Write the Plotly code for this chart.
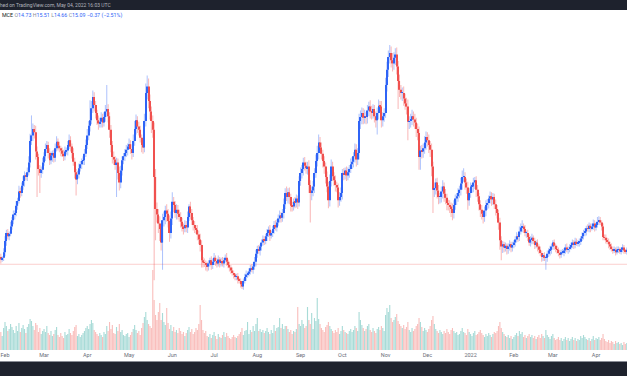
import plotly.graph_objects as go
import pandas as pd

# ---------------- data (price units arbitrary) ----------------
start_date = "2021-01-28"
first_open = 15.8

closes = [
    16.0, 15.7, 15.9, 16.6, 18.0, 19.0, 18.6, 18.9, 19.8, 20.6,
    21.3, 21.5, 22.4, 23.0, 24.2, 24.0, 24.9, 25.5, 26.2, 26.0,
    26.6, 27.8, 30.5, 31.2, 32.0, 31.6, 29.2, 28.5, 27.0, 26.5,
    26.9, 27.8, 28.6, 29.5, 30.0, 29.0, 28.1, 28.7, 29.0, 28.4,
    29.6, 30.4, 29.9, 29.6, 29.3, 28.9, 28.6, 29.2, 29.3, 30.0,
    30.6, 29.8, 29.0, 27.9, 26.6, 25.7, 26.3, 27.1, 27.6, 28.0,
    28.1, 28.9, 30.0, 31.2, 32.4, 33.1, 34.6, 36.0, 35.0, 34.0,
    33.1, 32.7, 32.9, 33.4, 32.8, 33.5, 34.2, 34.5, 33.6, 31.9,
    30.0, 28.5, 28.2, 27.5, 27.8, 26.5, 25.3, 26.8, 28.1, 28.6,
    29.0, 29.4, 29.8, 30.1, 29.5, 29.0, 30.5, 32.0, 33.1, 32.3,
    31.9, 30.9, 30.0, 29.7, 33.0, 36.5, 37.3, 35.5, 34.2, 33.0,
    31.9, 26.0, 22.0, 21.3, 20.2, 19.5, 17.8, 20.6, 21.0, 21.8,
    21.4, 20.5, 19.0, 20.8, 22.9, 22.5, 21.5, 21.9, 21.4, 21.0,
    20.4, 19.8, 19.6, 20.0, 19.7, 21.0, 22.3, 21.5, 20.6, 20.0,
    19.6, 19.4, 18.8, 18.2, 17.5, 15.6, 15.3, 15.25, 15.0, 14.8,
    15.2, 15.6, 15.0, 15.4, 15.9, 15.5, 15.2, 15.7, 15.3, 15.5,
    15.2, 15.6, 15.9, 15.4, 15.0, 14.7, 14.3, 14.0, 13.8, 13.5,
    13.6, 13.2, 13.0, 12.6, 12.3, 13.0, 13.5, 13.8, 13.9, 14.2,
    14.6, 14.4, 14.8, 15.4, 16.4, 17.0, 16.8, 17.3, 17.8, 18.2,
    18.0, 18.6, 19.0, 19.4, 18.7, 19.0, 19.5, 20.0, 19.7, 20.3,
    20.8, 21.2, 20.9, 21.5, 22.6, 24.0, 23.5, 24.1, 23.5, 22.4,
    22.3, 22.9, 22.8, 23.3, 22.8, 25.5, 26.5, 27.0, 27.8, 27.4,
    27.1, 27.3, 25.0, 24.0, 24.3, 24.8, 26.5, 28.0, 29.0, 30.3,
    29.7, 28.9, 28.0, 27.3, 26.0, 24.8, 23.1, 25.5, 27.3, 26.1,
    25.6, 25.0, 24.7, 23.1, 23.5, 24.0, 26.5, 26.3, 26.8, 26.2,
    26.6, 27.0, 27.6, 27.9, 28.6, 29.4, 28.2, 29.0, 33.0, 33.5,
    34.0, 33.4, 33.6, 33.5, 34.3, 34.8, 34.2, 34.0, 34.5, 33.6,
    33.1, 34.0, 34.9, 34.8, 33.1, 33.6, 34.0, 37.5, 39.4, 41.0,
    41.5, 40.6, 40.2, 40.9, 41.3, 39.8, 38.0, 36.9, 36.5, 36.5,
    35.8, 35.2, 34.8, 32.9, 33.0, 33.2, 33.6, 33.2, 32.8, 32.0,
    31.5, 28.5, 29.3, 29.2, 29.6, 30.3, 31.0, 30.6, 30.0, 29.4,
    27.3, 24.4, 24.6, 25.3, 24.3, 23.5, 23.5, 24.2, 24.8, 23.9,
    23.4, 22.75, 22.5, 22.3, 22.0, 21.5, 22.5, 23.3, 23.6, 24.0,
    24.4, 25.2, 26.0, 26.0, 25.3, 24.7, 23.1, 24.0, 24.8, 24.8,
    25.3, 25.6, 24.4, 23.6, 22.6, 21.9, 21.4, 21.0, 21.8, 22.5,
    22.75, 23.3, 23.6, 23.2, 23.5, 22.6, 22.0, 21.5, 20.3, 18.1,
    17.3, 17.6, 17.2, 17.4, 17.0, 17.3, 17.6, 17.2, 17.5, 17.8,
    18.2, 18.6, 18.5, 19.2, 19.7, 19.8, 19.5, 19.0, 19.0, 18.5,
    17.8, 18.2, 18.4, 18.0, 17.5, 17.8, 17.3, 16.9, 16.5, 16.0,
    16.2, 15.9, 15.9, 16.4, 16.8, 16.9, 17.3, 17.8, 17.4, 17.0,
    16.9, 16.5, 16.3, 16.6, 16.6, 16.8, 17.2, 16.9, 17.0, 17.2,
    17.5, 17.8, 17.5, 17.9, 17.7, 17.8, 17.9, 18.3, 18.6, 19.0,
    19.2, 19.6, 19.5, 19.9, 19.6, 19.8, 20.2, 19.7, 20.0, 20.4,
    20.6, 20.3, 19.8, 18.5, 18.4, 18.1, 17.9, 17.6, 17.3, 17.0,
    16.8, 16.9, 16.6, 16.9, 17.0, 16.7, 16.9, 17.2, 16.8, 16.7,
    16.9,
]

# wick lengths above/below the body, in tenths of a price unit
upper_wick = [
    3, 4, 2, 5, 6, 4, 5, 3, 6, 4,
    5, 3, 6, 4, 7, 5, 4, 6, 5, 3,
    6, 8, 9, 25, 7, 5, 8, 6, 4, 5,
    4, 6, 5, 7, 5, 4, 6, 5, 3, 4,
    6, 7, 4, 5, 3, 4, 5, 6, 4, 5,
    7, 5, 4, 6, 5, 4, 5, 6, 4, 3,
    5, 6, 7, 8, 6, 25, 9, 8, 6, 5,
    4, 6, 5, 7, 5, 6, 8, 30, 6, 5,
    6, 5, 7, 4, 6, 5, 8, 6, 5, 4,
    5, 6, 4, 7, 5, 6, 8, 10, 7, 5,
    6, 5, 4, 6, 9, 12, 14, 10, 8, 6,
    7, 9, 10, 8, 7, 9, 6, 8, 7, 6,
    8, 6, 7, 9, 12, 6, 5, 7, 6, 5,
    6, 5, 4, 6, 5, 7, 3, 6, 5, 4,
    5, 4, 6, 5, 7, 6, 4, 5, 3, 4,
    4, 3, 5, 4, 6, 3, 4, 5, 3, 4,
    5, 3, 4, 6, 3, 4, 3, 4, 3, 2,
    3, 4, 2, 3, 4, 3, 4, 5, 3, 4,
    4, 5, 3, 6, 5, 4, 5, 3, 4, 5,
    4, 3, 5, 4, 6, 3, 4, 5, 6, 4,
    5, 6, 4, 5, 7, 6, 8, 5, 6, 4,
    5, 4, 6, 5, 4, 6, 7, 5, 6, 7,
    5, 6, 8, 6, 5, 7, 6, 8, 9, 10,
    7, 6, 5, 6, 5, 7, 6, 8, 9, 6,
    5, 6, 4, 5, 6, 7, 5, 6, 4, 5,
    6, 5, 7, 6, 5, 8, 7, 6, 9, 8,
    7, 6, 8, 5, 7, 6, 8, 7, 6, 5,
    6, 7, 8, 6, 7, 5, 6, 9, 10, 8,
    10, 8, 9, 7, 8, 9, 7, 8, 6, 7,
    8, 6, 7, 9, 6, 7, 8, 6, 7, 6,
    7, 8, 6, 7, 6, 8, 7, 6, 7, 5,
    8, 6, 7, 5, 6, 7, 5, 6, 8, 5,
    6, 5, 4, 6, 5, 7, 6, 5, 4, 6,
    5, 7, 8, 11, 6, 5, 7, 6, 5, 4,
    6, 4, 5, 6, 4, 5, 6, 4, 5, 6,
    5, 4, 6, 5, 5, 4, 6, 5, 4, 6,
    5, 4, 3, 4, 3, 4, 5, 3, 4, 3,
    4, 5, 3, 6, 5, 8, 4, 5, 3, 4,
    3, 4, 5, 3, 4, 3, 4, 3, 4, 3,
    3, 4, 3, 4, 3, 5, 4, 3, 4, 3,
    4, 3, 4, 3, 4, 3, 4, 5, 3, 4,
    3, 4, 3, 5, 4, 3, 4, 3, 5, 4,
    4, 3, 5, 4, 3, 4, 5, 4, 3, 6,
    5, 4, 3, 4, 3, 4, 3, 4, 3, 4,
    3, 4, 3, 4, 3, 2, 3, 4, 3, 2,
    3,
]

lower_wick = [
    4, 5, 3, 4, 5, 6, 4, 5, 3, 4,
    5, 6, 4, 5, 3, 6, 4, 5, 7, 4,
    5, 4, 6, 5, 7, 8, 10, 50, 8, 25,
    6, 5, 4, 6, 5, 7, 6, 5, 8, 6,
    5, 4, 6, 5, 7, 4, 6, 5, 4, 6,
    5, 6, 7, 5, 8, 20, 6, 5, 4, 6,
    5, 6, 4, 5, 6, 7, 5, 6, 8, 7,
    6, 8, 5, 7, 6, 5, 6, 7, 8, 10,
    9, 8, 7, 6, 40, 8, 10, 7, 6, 5,
    6, 5, 7, 4, 6, 8, 5, 6, 7, 8,
    7, 6, 9, 8, 6, 7, 8, 9, 10, 15,
    10, 129, 39, 10, 12, 15, 10, 34, 8, 9,
    10, 8, 11, 7, 8, 9, 6, 8, 7, 6,
    7, 6, 8, 5, 6, 7, 5, 8, 6, 7,
    6, 5, 7, 6, 8, 9, 6, 5, 7, 6,
    5, 4, 6, 5, 4, 6, 5, 4, 6, 5,
    4, 5, 3, 5, 4, 5, 4, 3, 5, 4,
    4, 5, 3, 4, 3, 4, 3, 5, 4, 3,
    4, 3, 5, 4, 6, 5, 4, 6, 5, 4,
    5, 4, 6, 5, 7, 4, 5, 6, 4, 5,
    4, 5, 6, 5, 7, 6, 5, 8, 9, 7,
    6, 5, 7, 6, 8, 5, 6, 7, 8, 6,
    7, 8, 10, 37, 9, 7, 8, 6, 7, 8,
    6, 7, 8, 9, 8, 7, 10, 8, 7, 6,
    7, 8, 6, 9, 7, 6, 8, 7, 6, 7,
    6, 7, 5, 6, 7, 8, 9, 7, 8, 10,
    9, 8, 7, 9, 8, 7, 9, 8, 7, 8,
    9, 18, 8, 7, 9, 8, 7, 6, 8, 9,
    8, 9, 10, 8, 9, 10, 35, 9, 8, 10,
    9, 8, 10, 23, 9, 8, 7, 9, 8, 10,
    9, 16, 16, 9, 8, 7, 9, 8, 10, 9,
    12, 29, 9, 8, 10, 9, 8, 7, 9, 10,
    8, 9, 7, 8, 10, 9, 7, 6, 8, 7,
    6, 7, 8, 6, 9, 8, 12, 7, 6, 8,
    7, 8, 9, 7, 8, 9, 7, 8, 6, 7,
    6, 7, 6, 8, 7, 6, 8, 7, 9, 12,
    17, 8, 6, 5, 7, 6, 5, 6, 5, 4,
    5, 4, 6, 5, 4, 6, 5, 4, 6, 5,
    4, 5, 6, 4, 5, 4, 6, 5, 4, 6,
    5, 4, 15, 5, 4, 6, 5, 4, 5, 4,
    5, 4, 5, 4, 3, 5, 4, 3, 5, 4,
    3, 4, 5, 4, 3, 4, 5, 4, 3, 4,
    4, 5, 3, 4, 5, 3, 4, 5, 4, 3,
    4, 3, 5, 4, 3, 4, 3, 5, 4, 3,
    4, 3, 4, 3, 4, 3, 4, 3, 4, 3,
    4,
]

volume = [
    12, 18, 14, 22, 28, 24, 19, 21, 26, 23,
    20, 17, 24, 19, 27, 18, 22, 25, 21, 17,
    23, 26, 31, 29, 24, 20, 27, 25, 18, 22,
    16, 19, 21, 18, 24, 17, 15, 19, 14, 16,
    20, 23, 15, 13, 17, 14, 12, 18, 15, 16,
    21, 17, 15, 19, 23, 25, 14, 16, 13, 15,
    17, 19, 22, 24, 21, 26, 30, 27, 20, 18,
    16, 14, 17, 15, 13, 18, 16, 24, 19, 28,
    21, 25, 17, 16, 23, 19, 26, 18, 20, 15,
    14, 16, 17, 13, 15, 18, 21, 25, 20, 17,
    19, 15, 22, 27, 33, 38, 30, 26, 24, 22,
    80, 50, 35, 30, 38, 47, 30, 37, 28, 25,
    42, 27, 21, 25, 19, 23, 18, 20, 17, 22,
    19, 16, 18, 14, 17, 20, 23, 18, 21, 16,
    18, 22, 20, 26, 45, 30, 20, 17, 19, 14,
    13, 16, 12, 15, 18, 14, 11, 16, 13, 12,
    15, 18, 13, 17, 14, 12, 11, 13, 15, 13,
    12, 14, 16, 18, 22, 15, 19, 20, 28, 16,
    20, 18, 24, 19, 26, 32, 19, 21, 18, 20,
    17, 19, 22, 18, 16, 20, 17, 25, 19, 22,
    23, 32, 22, 26, 21, 24, 24, 21, 18, 20,
    16, 19, 18, 21, 43, 26, 24, 30, 26, 22,
    24, 43, 30, 26, 37, 21, 32, 29, 52, 31,
    26, 22, 20, 18, 23, 25, 28, 24, 21, 19,
    17, 20, 18, 22, 16, 19, 24, 20, 18, 17,
    16, 19, 21, 18, 20, 24, 22, 19, 38, 30,
    25, 22, 19, 21, 24, 26, 20, 18, 22, 19,
    17, 21, 23, 20, 24, 22, 19, 35, 42, 38,
    45, 32, 28, 30, 33, 36, 29, 26, 24, 22,
    25, 21, 23, 28, 20, 18, 22, 19, 21, 24,
    26, 32, 28, 23, 19, 22, 20, 18, 21, 24,
    30, 34, 26, 21, 19, 17, 20, 18, 16, 19,
    17, 21, 18, 16, 20, 22, 19, 17, 18, 15,
    16, 19, 22, 18, 17, 15, 21, 18, 16, 14,
    17, 19, 15, 16, 18, 20, 17, 15, 13, 16,
    14, 17, 15, 13, 16, 18, 17, 19, 24, 28,
    22, 18, 16, 14, 13, 15, 12, 14, 11, 13,
    15, 17, 14, 19, 16, 18, 13, 15, 12, 14,
    16, 13, 15, 12, 14, 11, 13, 15, 12, 16,
    14, 12, 20, 15, 13, 11, 14, 16, 12, 10,
    11, 13, 10, 12, 9, 11, 13, 10, 12, 9,
    11, 13, 10, 12, 9, 11, 10, 14, 12, 15,
    13, 11, 10, 12, 9, 11, 14, 10, 12, 11,
    13, 10, 12, 16, 11, 9, 8, 10, 7, 9,
    8, 6, 9, 7, 8, 6, 7, 5, 8, 6,
    7,
]

last_close = 15.09
tick_dates = ["2021-02-01", "2021-03-01", "2021-04-01", "2021-05-01", "2021-06-01",
              "2021-07-01", "2021-08-01", "2021-09-01", "2021-10-01", "2021-11-01",
              "2021-12-01", "2022-01-01", "2022-02-01", "2022-03-01", "2022-04-01"]
tick_labels = ["Feb", "Mar", "Apr", "May", "Jun", "Jul", "Aug", "Sep", "Oct", "Nov",
               "Dec", "2022", "Feb", "Mar", "Apr"]
banner_text = "Published on TradingView.com, May 04, 2022 16:03 UTC"
symbol = "MCE"
ohlc_labels = ["O", "H", "L", "C"]
ohlc_values = ["14.73", "15.51", "14.66", "15.09"]
change_text = "\u22120.37 (\u22122.51%)"

# ---------------- derived ----------------
n = len(closes)
assert len(upper_wick) == n and len(lower_wick) == n and len(volume) == n, \
    (n, len(upper_wick), len(lower_wick), len(volume))
dates = pd.date_range(start_date, periods=n, freq="D")
opens = [first_open] + closes[:-1]
tops = [max(o, c) for o, c in zip(opens, closes)]
bots = [min(o, c) for o, c in zip(opens, closes)]
highs = [t + u / 10 for t, u in zip(tops, upper_wick)]
lows = [b - w / 10 for b, w in zip(bots, lower_wick)]
is_up = [c >= o for o, c in zip(opens, closes)]

UP = "#2f64f6"
DN = "#f0514f"
UP_W = "rgba(47,100,246,0.38)"
DN_W = "rgba(240,81,79,0.40)"
UP_V = "rgba(38,166,154,0.40)"
DN_V = "rgba(239,83,80,0.38)"
DAY = 86400000

fig = go.Figure()

fig.add_trace(go.Bar(
    x=dates, y=volume, width=DAY * 0.8,
    marker=dict(color=[UP_V if u else DN_V for u in is_up], line=dict(width=0)),
    yaxis="y", hoverinfo="skip", showlegend=False))

fig.add_trace(go.Bar(
    x=dates, y=[h - l for h, l in zip(highs, lows)], base=lows, width=DAY * 0.75,
    marker=dict(color=[UP_W if u else DN_W for u in is_up], line=dict(width=0)),
    yaxis="y2", hoverinfo="skip", showlegend=False))

fig.add_trace(go.Bar(
    x=dates, y=[max(t - b, 0.08) for t, b in zip(tops, bots)], base=bots, width=DAY * 0.8,
    marker=dict(color=[UP if u else DN for u in is_up], line=dict(width=0)),
    yaxis="y2", hoverinfo="skip", showlegend=False))

W, H = 627, 376
PLOT_H = 350.0


def py(px):
    """pixel row -> paper y"""
    return (PLOT_H - px) / PLOT_H


shapes = [
    dict(type="line", xref="paper", x0=0, x1=1, yref="y2", y0=last_close, y1=last_close,
         line=dict(color="rgba(239,83,80,0.28)", width=1), layer="below"),
    dict(type="rect", xref="paper", x0=0, x1=1, y0=py(10), y1=py(0), yref="paper",
         fillcolor="#1e222d", line=dict(width=0), layer="above"),
    dict(type="rect", xref="paper", x0=0, x1=1, y0=py(376), y1=py(362), yref="paper",
         fillcolor="#1e222d", line=dict(width=0), layer="above"),
    dict(type="line", xref="paper", x0=0, x1=1, y0=py(361.5), y1=py(361.5), yref="paper",
         line=dict(color="#8a8d96", width=1), layer="above"),
]

LBL = "#8a8d96"
VAL = "#2f64f6"
parts = [f"<span style='color:#131722'>{symbol}</span>"]
for lab, val in zip(ohlc_labels, ohlc_values):
    parts.append(f"<span style='color:{LBL}'>{lab}</span><span style='color:{VAL}'>{val}</span>")
parts.append(f"<span style='color:{VAL}'>{change_text}</span>")
ticker_html = " ".join(parts)

annotations = [
    dict(text=banner_text, xref="paper", yref="paper", x=113 / W, y=py(5),
         xanchor="right", yanchor="middle", showarrow=False,
         font=dict(size=5, color="#b2b5be", family="Roboto")),
    dict(text=ticker_html, xref="paper", yref="paper", x=0, y=py(16),
         xanchor="left", yanchor="middle", showarrow=False,
         font=dict(size=5.3, color=VAL, family="Roboto")),
]

px_per_day = 1.394
t0 = pd.Timestamp(tick_dates[0]) - pd.Timedelta(days=5 / px_per_day)
t1 = t0 + pd.Timedelta(days=W / px_per_day)

fig.update_layout(
    width=W, height=H, margin=dict(l=0, r=0, t=0, b=H - PLOT_H),
    paper_bgcolor="white", plot_bgcolor="white",
    barmode="overlay", showlegend=False,
    xaxis=dict(type="date", range=[t0, t1], tickmode="array", tickvals=tick_dates,
               ticktext=tick_labels, showgrid=False, zeroline=False, showline=False,
               ticks="", tickfont=dict(size=5.5, color="#6a6d78", family="Roboto")),
    yaxis=dict(range=[0, 350], visible=False, fixedrange=True),
    yaxis2=dict(range=[(385 - PLOT_H) / 8, 385 / 8], overlaying="y", visible=False),
    shapes=shapes, annotations=annotations,
)

fig.write_html("out.html")
